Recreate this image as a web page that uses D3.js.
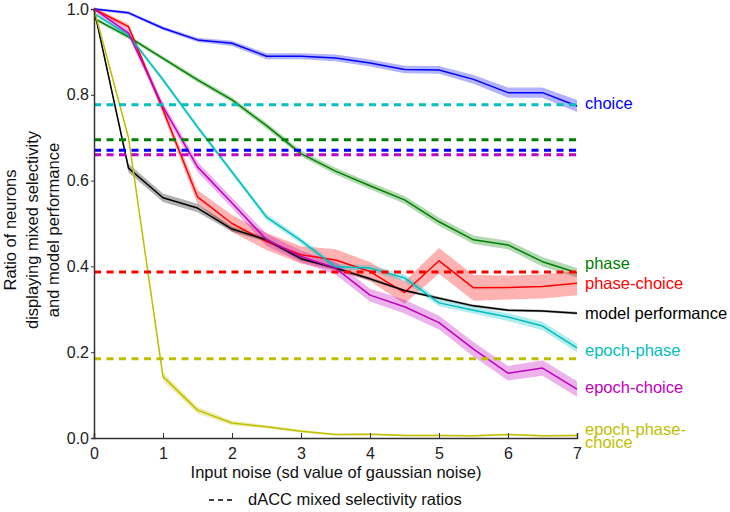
<!DOCTYPE html>
<html>
<head>
<meta charset="utf-8">
<script src="https://cdn.jsdelivr.net/npm/d3@7"></script>
<style>
  body { margin: 0; background: #fff; }
  text { font-family: "Liberation Sans", Arial, sans-serif; }
</style>
</head>
<body>
<svg id="chart" width="730" height="512"></svg>
<script>
// noise levels (x)
const noise = [0, 0.5, 1, 1.5, 2, 2.5, 3, 3.5, 4, 4.5, 5, 5.5, 6, 6.5, 7]

// series means
const choice = [1.0, 0.991, 0.955, 0.928, 0.92, 0.89, 0.89, 0.886, 0.874, 0.859, 0.858, 0.836, 0.805, 0.805, 0.774]
const phase = [0.978, 0.935, 0.885, 0.835, 0.788, 0.728, 0.663, 0.622, 0.588, 0.555, 0.504, 0.462, 0.45, 0.411, 0.385]
const phaseChoice = [1.0, 0.959, 0.765, 0.562, 0.5, 0.458, 0.427, 0.415, 0.388, 0.339, 0.413, 0.35, 0.351, 0.353, 0.361]
const modelPerf = [1.0, 0.629, 0.56, 0.536, 0.487, 0.462, 0.418, 0.396, 0.371, 0.344, 0.326, 0.308, 0.298, 0.296, 0.291]
const epochPhase = [0.99, 0.939, 0.835, 0.725, 0.62, 0.515, 0.46, 0.399, 0.396, 0.373, 0.315, 0.298, 0.282, 0.261, 0.21]
const epochChoice = [1.0, 0.944, 0.772, 0.632, 0.548, 0.462, 0.423, 0.396, 0.333, 0.306, 0.269, 0.207, 0.151, 0.163, 0.114]
const epochPhaseChoice = [1.0, 0.70, 0.143, 0.065, 0.035, 0.026, 0.016, 0.008, 0.009, 0.006, 0.006, 0.005, 0.008, 0.005, 0.006]

// error band half-widths
const choiceErr = [0.003, 0.004, 0.004, 0.005, 0.006, 0.007, 0.007, 0.008, 0.008, 0.009, 0.009, 0.01, 0.012, 0.012, 0.014]
const phaseErr = [0.004, 0.005, 0.005, 0.006, 0.006, 0.007, 0.007, 0.008, 0.008, 0.009, 0.01, 0.01, 0.01, 0.011, 0.011]
const phaseChoiceErr = [0.004, 0.006, 0.01, 0.016, 0.02, 0.02, 0.02, 0.025, 0.022, 0.026, 0.03, 0.03, 0.028, 0.028, 0.028]
const modelPerfErr = [0.003, 0.01, 0.01, 0.01, 0.006, 0.005, 0.004, 0.004, 0.004, 0.003, 0.003, 0.003, 0.003, 0.003, 0.003]
const epochPhaseErr = [0.004, 0.005, 0.006, 0.006, 0.006, 0.007, 0.007, 0.007, 0.007, 0.008, 0.008, 0.008, 0.009, 0.01, 0.01]
const epochChoiceErr = [0.004, 0.008, 0.01, 0.012, 0.012, 0.014, 0.014, 0.015, 0.015, 0.016, 0.016, 0.017, 0.017, 0.018, 0.018]
const epochPhaseChoiceErr = [0.003, 0.005, 0.01, 0.008, 0.005, 0.004, 0.003, 0.002, 0.002, 0.002, 0.002, 0.002, 0.002, 0.002, 0.002]

// dACC reference ratios (dashed)
const daccNames = ['epoch-phase', 'phase', 'choice', 'epoch-choice', 'phase-choice', 'epoch-phase-choice']
const daccRatios = [0.777, 0.695, 0.671, 0.66, 0.387, 0.185]

const yTicks = [0.0, 0.2, 0.4, 0.6, 0.8, 1.0]
const xTicks = [0, 1, 2, 3, 4, 5, 6, 7]

const colors = {
  'choice': '#0000ff',
  'phase': '#008000',
  'phase-choice': '#ff0000',
  'model performance': '#000000',
  'epoch-phase': '#00bfbf',
  'epoch-choice': '#bf00bf',
  'epoch-phase-choice': '#bfbf00'
}

const series = [
  { name: 'choice', values: choice, err: choiceErr, label: ['choice'], nudge: -3 },
  { name: 'phase', values: phase, err: phaseErr, label: ['phase'], nudge: -10 },
  { name: 'phase-choice', values: phaseChoice, err: phaseChoiceErr, label: ['phase-choice'], nudge: 0 },
  { name: 'model performance', values: modelPerf, err: modelPerfErr, label: ['model performance'], nudge: 0 },
  { name: 'epoch-phase', values: epochPhase, err: epochPhaseErr, label: ['epoch-phase'], nudge: 2 },
  { name: 'epoch-choice', values: epochChoice, err: epochChoiceErr, label: ['epoch-choice'], nudge: -2 },
  { name: 'epoch-phase-choice', values: epochPhaseChoice, err: epochPhaseChoiceErr, label: ['epoch-phase-', 'choice'], nudge: 0 }
]

const svg = d3.select('#chart')

const x = d3.scaleLinear().domain([0, 7]).range([94, 577])
const y = d3.scaleLinear().domain([0, 1]).range([438, 9])

// bands
const area = d3.area()
  .x((d, i) => x(noise[i]))
  .y0(d => y(d.lo))
  .y1(d => y(d.hi))

const line = d3.line()
  .x((d, i) => x(noise[i]))
  .y(d => y(d))

svg.append('g').selectAll('path')
  .data(series)
  .join('path')
  .attr('d', s => area(s.values.map((v, i) => ({ lo: v - s.err[i], hi: v + s.err[i] }))))
  .attr('fill', s => colors[s.name])
  .attr('fill-opacity', 0.3)
  .attr('stroke', 'none')

svg.append('g').selectAll('path')
  .data(series)
  .join('path')
  .attr('d', s => line(s.values))
  .attr('fill', 'none')
  .attr('stroke', s => colors[s.name])
  .attr('stroke-width', 1.5)
  .attr('stroke-linejoin', 'round')

// dashed dACC lines
svg.append('g').selectAll('line')
  .data(daccRatios)
  .join('line')
  .attr('x1', x(0))
  .attr('x2', x(7))
  .attr('y1', d => y(d))
  .attr('y2', d => y(d))
  .attr('stroke', (d, i) => colors[daccNames[i]])
  .attr('stroke-width', 3)
  .attr('stroke-dasharray', '7,5.5')

// axes
const yAxis = d3.axisLeft(y).tickValues(yTicks).tickFormat(d3.format('.1f')).tickSize(3).tickPadding(2)
const xAxis = d3.axisBottom(x).tickValues(xTicks).tickFormat(d3.format('d')).tickSize(-5).tickPadding(10)

const gy = svg.append('g').attr('transform', `translate(${x(0)},0)`).call(yAxis)
const gx = svg.append('g').attr('transform', `translate(0,${y(0)})`).call(xAxis)

for (const g of [gx, gy]) {
  g.select('.domain').attr('stroke', '#333').attr('stroke-width', 1.5)
  g.selectAll('.tick line').attr('stroke', '#333').attr('stroke-width', 1)
  g.selectAll('.tick text').attr('fill', '#222').style('font-size', '16px')
    .style('font-family', '"Liberation Sans", Arial, sans-serif')
}

// right-side series labels
const labels = svg.append('g')
series.forEach(s => {
  const yy = y(s.values[s.values.length - 1]) + s.nudge
  const t = labels.append('text')
    .attr('x', 585)
    .attr('fill', colors[s.name])
    .style('font-size', '16.5px')
  if (s.label.length === 1) {
    t.attr('y', yy).attr('dy', '0.35em').text(s.label[0])
  } else {
    s.label.forEach((l, j) => {
      t.append('tspan').attr('x', 585).attr('y', yy - 6 + j * 12.5).attr('dy', '0.35em').text(l)
    })
  }
})

// axis titles
svg.append('text')
  .attr('x', 336)
  .attr('y', 478)
  .attr('text-anchor', 'middle')
  .attr('fill', '#111')
  .style('font-size', '16.5px')
  .text('Input noise (sd value of gaussian noise)')

const ylab = svg.append('text')
  .attr('transform', 'translate(0,230) rotate(-90)')
  .attr('text-anchor', 'middle')
  .attr('fill', '#111')
  .style('font-size', '16.5px')
;['Ratio of neurons', 'displaying mixed selectivity', 'and model performance'].forEach((l, j) => {
  ylab.append('tspan').attr('x', 0).attr('y', 16 + j * 21.5).text(l)
})

// legend for dashed lines
svg.append('line')
  .attr('x1', 209).attr('x2', 232)
  .attr('y1', 500).attr('y2', 500)
  .attr('stroke', '#000')
  .attr('stroke-width', 1.5)
  .attr('stroke-dasharray', '5,4')

svg.append('text')
  .attr('x', 248)
  .attr('y', 505)
  .attr('fill', '#111')
  .style('font-size', '16.5px')
  .text('dACC mixed selectivity ratios')
</script>
</body>
</html>
